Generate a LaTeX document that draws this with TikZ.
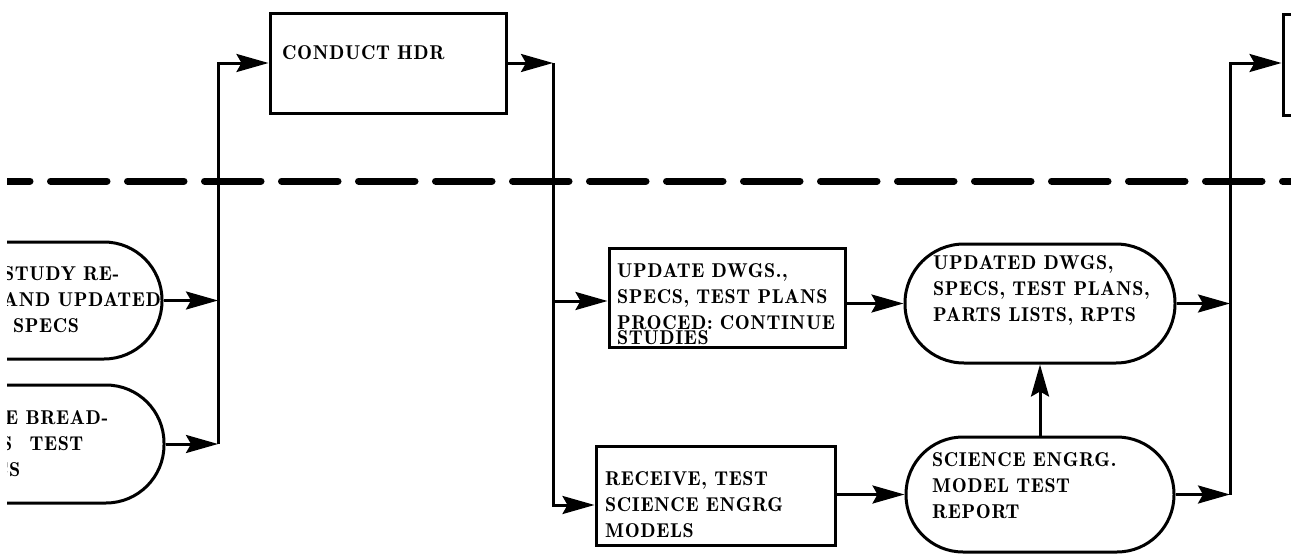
\documentclass[tikz,border=0pt]{standalone}
\usepackage{fontspec}
\usetikzlibrary{arrows.meta}
\newfontfamily\diagfont{lmromandemi10-regular.otf}[LetterSpace=3]
\begin{document}
\begin{tikzpicture}[x=1pt,y=-1pt,
  box/.style={draw, line width=3pt, rectangle, inner sep=0pt},
  pill/.style={box, rounded corners=#1},
  arr/.style={line width=3pt, -{Stealth[length=32pt,width=18pt,inset=5pt]}},
  txt/.style={anchor=north west, inner sep=0pt, align=left,
    font=\diagfont\fontsize{20}{26}\selectfont},
  divider/.style={line width=7pt, line cap=round, dash pattern=on 56.5pt off 20.5pt}
]
\useasboundingbox (0,0) rectangle (1291,554);
\clip (7,0) rectangle (1291,554);

% boundary line
\draw[divider] (-26.5,181) -- (1320,181);

% upper row
\node[box, minimum width=236pt, minimum height=100pt] (hdr) at (388,63) {};
\node[txt] (hdrt) at (282,45) {CONDUCT HDR};
\node[box, minimum width=62pt, minimum height=101pt] (rbox) at (1314,64.5) {};

% left inputs
\node[pill=58pt, minimum width=262pt, minimum height=117pt] (l1) at (31,300.5) {};
\node[txt] (l1t) at (3,266) {STUDY RE-\\AND UPDATED\\\hspace*{10pt}SPECS};
\node[pill=58pt, minimum width=264pt, minimum height=118pt] (l2) at (32,444) {};
\node[txt] (l2t) at (5,410) {E BREAD-\\\hspace*{-4pt}S\hspace*{10pt} TEST\\\hspace*{-11pt}CS};

% middle column
\node[box, minimum width=236pt, minimum height=99pt] (upd) at (727,297.5) {};
\node[txt] (updt) at (617,263) {UPDATE DWGS.,\\SPECS, TEST PLANS\\PROCED: CONTINUE\\[-11pt]STUDIES};
\node[box, minimum width=239pt, minimum height=99pt] (rcv) at (715.5,495.5) {};
\node[txt] (rcvt) at (605,471) {RECEIVE, TEST\\SCIENCE ENGRG\\MODELS};

% right column
\node[pill=59pt, minimum width=270pt, minimum height=119pt] (updd) at (1040,303.5) {};
\node[txt] (upddt) at (933,255) {UPDATED DWGS,\\SPECS, TEST PLANS,\\PARTS LISTS, RPTS};
\node[pill=57pt, minimum width=268pt, minimum height=115pt] (sci) at (1040,494.5) {};
\node[txt] (scit) at (932,452) {SCIENCE ENGRG.\\MODEL TEST\\REPORT};

% junction points
\coordinate (j1t) at (218,63);
\coordinate (j1b) at (218,444);
\coordinate (j2t) at (553,63);
\coordinate (j2m) at (553,301);
\coordinate (j2b) at (553,505);
\coordinate (j3t) at (1230,63);
\coordinate (j3b) at (1230,494.5);

% connectors
\draw[arr] (l1.east) -- (l1.east -| j1t);
\draw[arr] (l2.east) -- (j1b);
\draw[arr] (j1b) -- (j1t) -- (hdr.west);
\draw[arr] (hdr.east) -- (j2t);
\draw[arr] (j2t) -- (j2b) -- (j2b -| rcv.west);
\draw[arr] (j2m) -- (j2m -| upd.west);
\draw[arr] (updd.west -| upd.east) -- (updd.west);
\draw[arr] (sci.west -| rcv.east) -- (sci.west);
\draw[arr] (sci.north) -- (updd.south);
\draw[arr] (updd.east) -- (updd.east -| j3t);
\draw[arr] (sci.east) -- (j3b);
\draw[arr] (j3b) -- (j3t) -- (j3t -| rbox.west);
\end{tikzpicture}
\end{document}
